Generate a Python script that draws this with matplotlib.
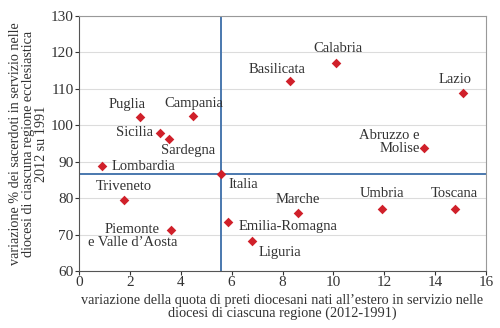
import matplotlib.pyplot as plt
import numpy as np

plt.rcParams['font.family'] = ['Liberation Serif', 'DejaVu Serif']

# regioni ecclesiastiche
regioni = ['Puglia', 'Campania', 'Sicilia', 'Sardegna', 'Lombardia', 'Italia',
           'Triveneto', 'Piemonte\ne Valle d\u2019Aosta', 'Emilia-Romagna', 'Liguria',
           'Marche', 'Umbria', 'Toscana', 'Basilicata', 'Calabria', 'Lazio',
           'Abruzzo e\nMolise']
# variazione quota preti nati all'estero (2012-1991)
quota = [2.4, 4.5, 3.2, 3.55, 0.9, 5.6, 1.75, 3.6, 5.85, 6.8,
         8.6, 11.9, 14.8, 8.3, 10.1, 15.1, 13.55]
# variazione % dei sacerdoti 2012 su 1991
sacerdoti = [102.3, 102.6, 97.8, 96.3, 88.8, 86.5, 79.4, 71.3, 73.4, 68.2,
             75.9, 77.0, 77.0, 112.2, 117.2, 109.0, 93.8]

# posizione delle etichette rispetto al punto (dx, dy in pixel, allineamento)
offs = {
    'Puglia': (-13, 6, 'center', 'bottom'),
    'Campania': (0, 6, 'center', 'bottom'),
    'Sicilia': (-7, 1, 'right', 'center'),
    'Sardegna': (19, -5, 'center', 'top'),
    'Lombardia': (10, 0, 'left', 'center'),
    'Italia': (7, -4, 'left', 'top'),
    'Triveneto': (0, 7, 'center', 'bottom'),
    'Piemonte\ne Valle d\u2019Aosta': (-38, 7, 'center', 'top'),
    'Emilia-Romagna': (11, -4, 'left', 'center'),
    'Liguria': (7, -11, 'left', 'center'),
    'Marche': (0, 7, 'center', 'bottom'),
    'Umbria': (0, 9, 'center', 'bottom'),
    'Toscana': (-1, 9, 'center', 'bottom'),
    'Basilicata': (-13, 5, 'center', 'bottom'),
    'Calabria': (2, 8, 'center', 'bottom'),
    'Lazio': (-8, 7, 'center', 'bottom'),
    'Abruzzo e\nMolise': (-4, 6, 'right', 'center'),
}

fig = plt.figure(figsize=(5, 3.28), dpi=100)
ax = fig.add_axes([0.158, 0.174, 0.814, 0.777])

ax.set_xlim(0, 16)
ax.set_ylim(60, 130)
ax.set_xticks(np.arange(0, 17, 2))
ax.set_yticks(np.arange(60, 131, 10))
ax.yaxis.grid(True, color='#dcdcdc', lw=0.8)
ax.set_axisbelow(True)

# linee del dato nazionale
ita = regioni.index('Italia')
ax.axvline(quota[ita], color='#4a78ae', lw=1.4, zorder=2)
ax.axhline(sacerdoti[ita], color='#4a78ae', lw=1.4, zorder=2)

ax.scatter(quota, sacerdoti, marker='D', s=24, color='#d0202a', zorder=3, lw=0)

for nome, x, y in zip(regioni, quota, sacerdoti):
    dx, dy, ha, va = offs[nome]
    ax.annotate(nome, (x, y), xytext=(dx, dy), textcoords='offset pixels',
                ha=ha, va=va, fontsize=10.5, color='#333333', linespacing=1.05,
                multialignment='center' if ha == 'center' else ha)

for s in ['left', 'bottom']:
    ax.spines[s].set_color('#555555')
for s in ['top', 'right']:
    ax.spines[s].set_color('#999999')
ax.tick_params(labelsize=11, colors='#333333', length=3, width=0.8, pad=1)

ax.set_xlabel('variazione della quota di preti diocesani nati all\u2019estero in servizio nelle\n'
              'diocesi di ciascuna regione (2012-1991)', fontsize=10.3, color='#333333',
              linespacing=1.0, labelpad=3)
ax.set_ylabel('variazione % dei sacerdoti in servizio nelle\n'
              'diocesi di ciascuna regione ecclesiastica\n2012 su 1991',
              fontsize=10.2, color='#333333', linespacing=1.0, labelpad=2)

fig.savefig('out.png', dpi=100)
